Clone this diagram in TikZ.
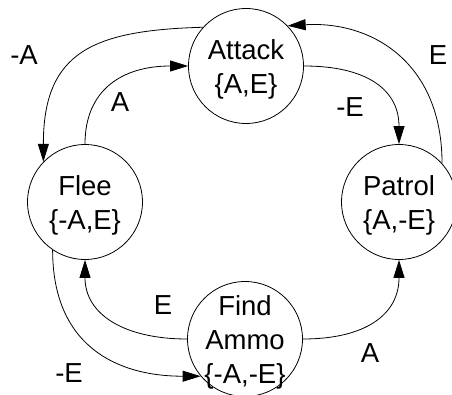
\documentclass[tikz,border=0pt]{standalone}
\usepackage{fontspec}
\setmainfont{Liberation Sans}
\usetikzlibrary{arrows.meta}
\begin{document}
\begin{tikzpicture}[x=1pt,y=1pt,
  state/.style={draw, circle, minimum size=115pt, inner sep=0pt, line width=0.8pt},
  statetext/.style={align=center, font=\fontsize{27.5}{34}\selectfont, inner sep=0pt, yshift=-3pt},
  lbl/.style={font=\fontsize{27.5}{34}\selectfont, inner sep=0pt, anchor=base},
  trans/.style={line width=0.8pt, -{Triangle[length=18pt,width=11pt]}}]
\useasboundingbox (0,0) rectangle (452,394);

% states
\node[state] (attack) at (246,328) {};
\node[state] (flee)   at (85,192)  {};
\node[state] (patrol) at (399,192) {};
\node[state] (ammo)   at (245,55)  {};

\node[statetext] (attacktxt) at (attack) {Attack\\\{A,E\}};
\node[statetext] (fleetxt)   at (flee)   {Flee\\\{-A,E\}};
\node[statetext] (patroltxt) at (patrol) {Patrol\\\{A,-E\}};
\node[statetext] (ammotxt)   at (ammo)   {Find\\Ammo\\\{-A,-E\}};

% transitions
\draw[trans] (attack.138) .. controls +(-110,-3) and +(0,110) .. (flee.136);
\draw[trans] (flee.90) .. controls +(0,55) and +(-65,0) .. (attack.180);
\draw[trans] (attack.0) .. controls +(62,0) and +(0,55) .. (patrol.90);
\draw[trans] (patrol.42) .. controls +(0,100) and +(85,5) .. (attack.44);
\draw[trans] (ammo.180) .. controls +(-62,0) and +(0,-55) .. (flee.270);
\draw[trans] (flee.236) .. controls +(0,-95) and +(-85,0) .. (ammo.220);
\draw[trans] (ammo.0) .. controls +(62,0) and +(0,-55) .. (patrol.270);

% transition labels
\node[lbl] (l1) at (24,329)  {-A};
\node[lbl] (l2) at (120,282) {A};
\node[lbl] (l3) at (350,277) {-E};
\node[lbl] (l4) at (438,329) {E};
\node[lbl] (l5) at (163,80)  {E};
\node[lbl] (l6) at (69,12)   {-E};
\node[lbl] (l7) at (370,32)  {A};
\end{tikzpicture}
\end{document}
